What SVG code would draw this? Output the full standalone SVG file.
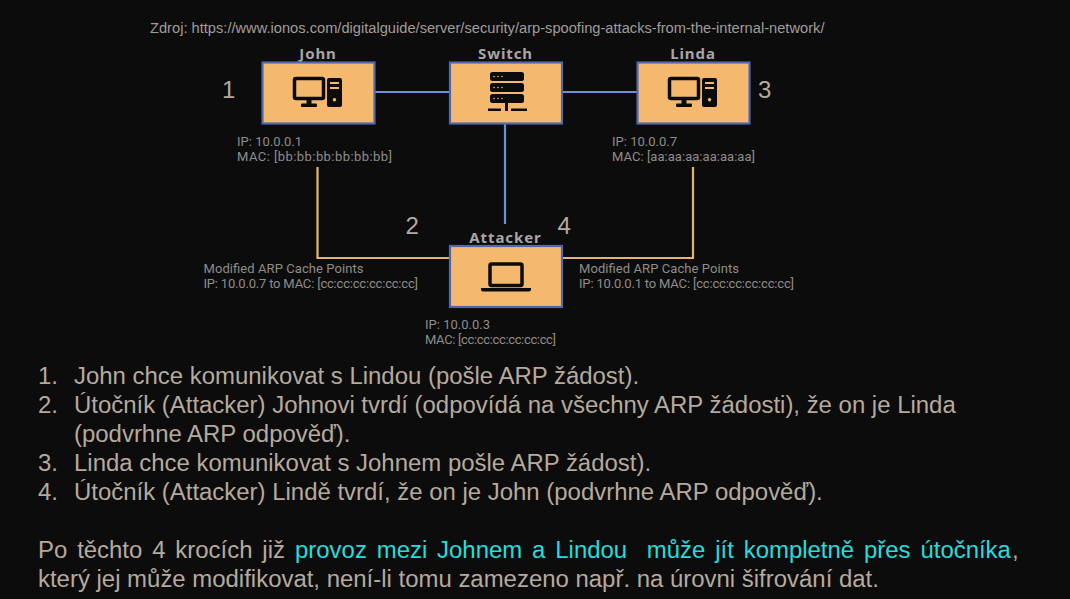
<svg xmlns="http://www.w3.org/2000/svg" width="1070" height="599" viewBox="0 0 1070 599">
<defs>
<style>
.bg{fill:#0c0c0c}
.box{fill:#f4b96f;stroke:#4f69b0;stroke-width:2.2}
.title{font:bold 15px "Noto Sans",sans-serif;fill:#a8a6a3;letter-spacing:.9px;text-anchor:middle}
.small{font:13px Roboto,sans-serif;fill:#8f8d8a}
.num{font:24px "Liberation Sans",sans-serif;fill:#b5aa9d}
.src{font:14.67px "Liberation Sans",sans-serif;fill:#a09d99}
.body{font:23.95px "Liberation Sans",sans-serif;fill:#b5aa9d}
.just{word-spacing:3.2px}
.cy{fill:#22dede}
.blue{fill:none;stroke:#6f8fd8;stroke-width:2.2}
.org{fill:none;stroke:#e6b473;stroke-width:2.2}
.ic{fill:#0c0c0c}
.icl{fill:none;stroke:#0c0c0c;stroke-width:3.5;stroke-linejoin:round}
</style>
<g id="pc">
<rect class="icl" x="-23.5" y="-13.500" width="29" height="20" rx="1.500"/>
<rect class="ic" x="-11.5" y="7" width="5" height="6"/>
<rect class="ic" x="-17" y="11.500" width="16" height="3.500" rx="1"/>
<path class="ic" fill-rule="evenodd" d="M11-14h11a2 2 0 0 1 2 2v25a2 2 0 0 1-2 2h-11a2 2 0 0 1-2-2v-25a2 2 0 0 1 2-2zM12-10v2h9v-2zM12-5v2h9v-2zM16.500 6a1.700 1.700 0 1 0 .01 0z"/>
</g>
</defs>
<rect class="bg" width="1070" height="599"/>
<text class="src" x="150" y="33">Zdroj: https://www.ionos.com/digitalguide/server/security/arp-spoofing-attacks-from-the-internal-network/</text>
<g id="connectors">
<path class="blue" d="M375 92H450M562 92H638M505 124V224"/>
<path class="org" d="M317.500 167V258H450M693 167V258H562"/>
</g>
<g id="john">
<text class="title" x="318" y="59">John</text>
<rect class="box" x="262.500" y="62.500" width="112" height="61"/>
<use href="#pc" x="318" y="92"/>
<text class="num" x="222" y="98">1</text>
<text class="small" x="237" y="146" textLength="65">IP: 10.0.0.1</text>
<text class="small" x="237" y="161" textLength="155">MAC: [bb:bb:bb:bb:bb:bb]</text>
</g>
<g id="switch">
<text class="title" x="505.500" y="59">Switch</text>
<rect class="box" x="450" y="62.500" width="112" height="61"/>
<g class="ic">
<rect x="490" y="72" width="34" height="9" rx="2.500"/>
<rect x="490" y="83" width="34" height="9" rx="2.500"/>
<rect x="490" y="94" width="34" height="9" rx="2.500"/>
<rect x="488" y="108.500" width="13" height="2.500"/>
<rect x="505" y="103" width="3" height="8"/>
<rect x="511" y="108.500" width="16" height="2.500"/>
</g>
<g fill="#f4b96f">
<circle cx="494" cy="76.500" r=".8"/><circle cx="498" cy="76.500" r=".8"/><circle cx="502" cy="76.500" r=".8"/>
<circle cx="494" cy="87.500" r=".8"/><circle cx="498" cy="87.500" r=".8"/><circle cx="502" cy="87.500" r=".8"/>
<circle cx="494" cy="98.500" r=".8"/><circle cx="498" cy="98.500" r=".8"/><circle cx="502" cy="98.500" r=".8"/>
</g>
</g>
<g id="linda">
<text class="title" x="693" y="59">Linda</text>
<rect class="box" x="637.500" y="62.500" width="112" height="61"/>
<use href="#pc" x="693" y="92"/>
<text class="num" x="758" y="98">3</text>
<text class="small" x="612" y="146" textLength="65">IP: 10.0.0.7</text>
<text class="small" x="612" y="161" textLength="143">MAC: [aa:aa:aa:aa:aa:aa]</text>
</g>
<g id="attacker">
<text class="title" x="505.500" y="242.500">Attacker</text>
<rect class="box" x="450" y="246" width="112" height="61"/>
<rect class="icl" x="490" y="264" width="32" height="21.500" rx="1.500"/>
<path class="ic" d="M481 288h50v1.500a2 2 0 0 1-2 2h-46a2 2 0 0 1-2-2z"/>
<text class="small" x="425" y="329" textLength="65">IP: 10.0.0.3</text>
<text class="small" x="425" y="344" textLength="131">MAC: [cc:cc:cc:cc:cc:cc]</text>
</g>
<g id="labels">
<text class="num" x="405.500" y="234">2</text>
<text class="num" x="557.500" y="234">4</text>
<text class="small" x="203.500" y="273" textLength="160">Modified ARP Cache Points</text>
<text class="small" x="203.500" y="288" textLength="214.500">IP: 10.0.0.7 to MAC: [cc:cc:cc:cc:cc:cc]</text>
<text class="small" x="579" y="273" textLength="160">Modified ARP Cache Points</text>
<text class="small" x="579" y="288" textLength="215">IP: 10.0.0.1 to MAC: [cc:cc:cc:cc:cc:cc]</text>
</g>
<g id="body">
<text class="body" x="38" y="384">1.</text><text class="body" x="74" y="384">John chce komunikovat s Lindou (pošle ARP žádost).</text>
<text class="body" x="38" y="413">2.</text><text class="body" x="74" y="413">Útočník (Attacker) Johnovi tvrdí (odpovídá na všechny ARP žádosti), že on je Linda</text>
<text class="body" x="74" y="442">(podvrhne ARP odpověď).</text>
<text class="body" x="38" y="471">3.</text><text class="body" x="74" y="471">Linda chce komunikovat s Johnem pošle ARP žádost).</text>
<text class="body" x="38" y="500">4.</text><text class="body" x="74" y="500">Útočník (Attacker) Lindě tvrdí, že on je John (podvrhne ARP odpověď).</text>
<text class="body just" x="38" y="558">Po těchto 4 krocích již</text>
<text class="body cy just" x="295" y="558">provoz mezi Johnem a Lindou&#160; může jít kompletně přes útočníka</text>
<text class="body" x="1012" y="558">,</text>
<text class="body" x="38" y="587">který jej může modifikovat, není-li tomu zamezeno např. na úrovni šifrování dat.</text>
</g>
</svg>
